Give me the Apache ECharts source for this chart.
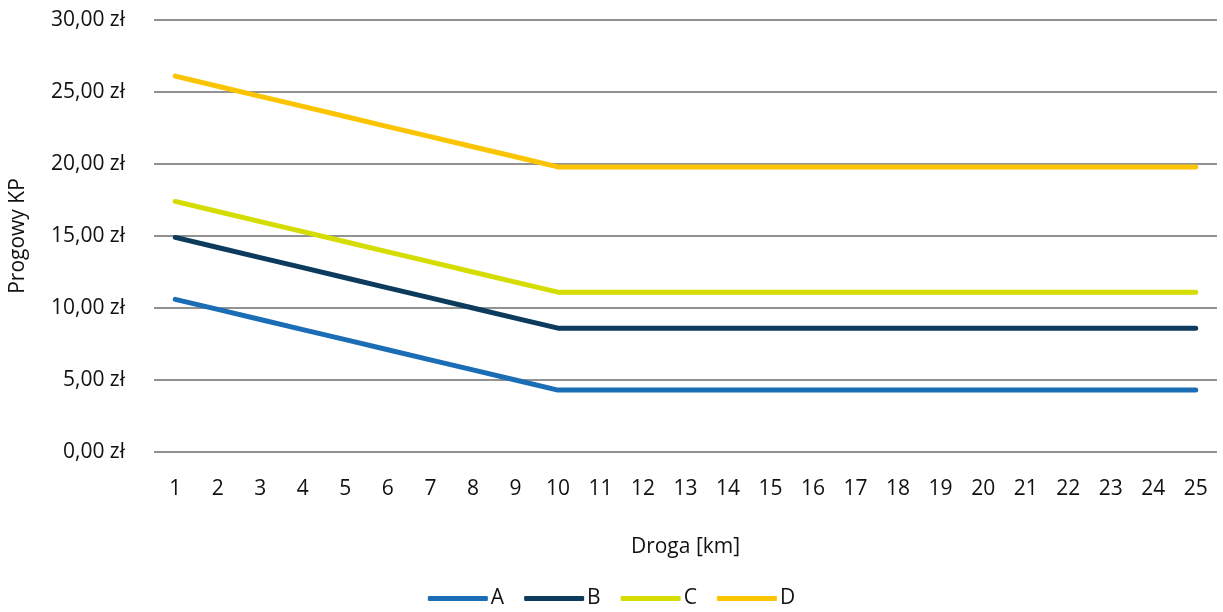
<!DOCTYPE html>
<html>
<head>
<meta charset="utf-8">
<script src="https://cdn.jsdelivr.net/npm/echarts@6/dist/echarts.min.js"></script>
<style>html,body{margin:0;padding:0;background:#fff;}#c{width:1223px;height:612px;}</style>
</head>
<body>
<div id="c"></div>
<script>
const categories = ['1','2','3','4','5','6','7','8','9','10','11','12','13','14','15','16','17','18','19','20','21','22','23','24','25'];
const seriesA = [10.6,9.9,9.2,8.5,7.8,7.1,6.4,5.7,5.0,4.3,4.3,4.3,4.3,4.3,4.3,4.3,4.3,4.3,4.3,4.3,4.3,4.3,4.3,4.3,4.3];
const seriesB = [14.9,14.2,13.5,12.8,12.1,11.4,10.7,10.0,9.3,8.6,8.6,8.6,8.6,8.6,8.6,8.6,8.6,8.6,8.6,8.6,8.6,8.6,8.6,8.6,8.6];
const seriesC = [17.4,16.7,16.0,15.3,14.6,13.9,13.2,12.5,11.8,11.1,11.1,11.1,11.1,11.1,11.1,11.1,11.1,11.1,11.1,11.1,11.1,11.1,11.1,11.1,11.1];
const seriesD = [26.1,25.4,24.7,24.0,23.3,22.6,21.9,21.2,20.5,19.8,19.8,19.8,19.8,19.8,19.8,19.8,19.8,19.8,19.8,19.8,19.8,19.8,19.8,19.8,19.8];
const seriesNames = ['A','B','C','D'];
const colors = ['#1b6db5','#0d3b5e','#d4dc00','#fbc400'];
const yTicks = {min:0, max:30, interval:5};

const FONT = '"Open Sans", "Noto Sans", sans-serif';
const FS = 21;
const chart = echarts.init(document.getElementById('c'), null, {renderer:'canvas'});
const data = [seriesA, seriesB, seriesC, seriesD];
chart.setOption({
  animation:false,
  backgroundColor:'#fff',
  textStyle:{fontFamily:FONT},
  grid:{left:152, right:6, top:20, bottom:160},
  legend:{
    bottom:3, left:'center', padding:0,
    itemWidth:60, itemHeight:5, itemGap:20,
    icon:'roundRect',
    textStyle:{fontFamily:FONT, fontSize:FS, color:'#111', padding:[0,0,0,-2]},
    data:seriesNames
  },
  xAxis:{
    type:'category', data:categories, boundaryGap:true,
    name:'Droga [km]', nameLocation:'middle', nameGap:85,
    nameTextStyle:{fontFamily:FONT, fontSize:FS, color:'#111'},
    axisLine:{show:false}, axisTick:{show:false},
    axisLabel:{fontFamily:FONT, fontSize:FS, color:'#111', margin:27, interval:0}
  },
  yAxis:{
    type:'value', min:yTicks.min, max:yTicks.max, interval:yTicks.interval,
    name:'Progowy KP', nameLocation:'middle', nameGap:125, nameRotate:90,
    nameTextStyle:{fontFamily:FONT, fontSize:FS, color:'#111'},
    axisLine:{show:false}, axisTick:{show:false},
    axisLabel:{fontFamily:FONT, fontSize:FS, color:'#111', margin:29,
      formatter:v=>v.toFixed(2).replace('.',',')+' zł'},
    splitLine:{lineStyle:{color:'#6e6e6e', width:1.5}}
  },
  series: seriesNames.map((n,i)=>({
    name:n, type:'line', data:data[i], symbol:'none',
    lineStyle:{color:colors[i], width:5, cap:'round', join:'round'},
    itemStyle:{color:colors[i]}
  }))
});
</script>
</body>
</html>
